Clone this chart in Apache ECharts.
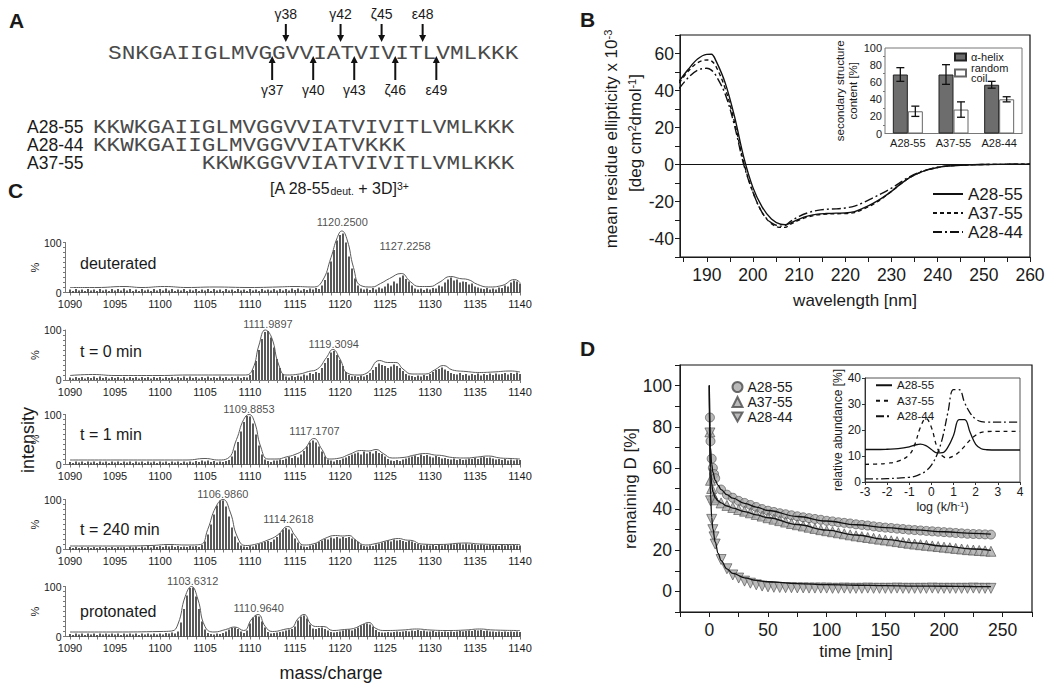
<!DOCTYPE html>
<html><head><meta charset="utf-8">
<script src="https://cdn.jsdelivr.net/npm/echarts@6/dist/echarts.min.js"></script>
<style>html,body{margin:0;padding:0;background:#fff}#c{width:1050px;height:690px}</style>
</head><body><div id="c"></div>
<script>
const FONT = "'Liberation Sans', Arial, Helvetica, sans-serif";
const MONO = "'Liberation Mono', 'Courier New', monospace";
const INK = '#1a1a1a';

// ---------- Panel A ----------
const SEQ_FULL = 'SNKGAIIGLMVGGVVIATVIVITLVMLKKK';
const SITES_ABOVE = [['γ38', 13], ['γ42', 17], ['ζ45', 20], ['ε48', 23]];
const SITES_BELOW = [['γ37', 12], ['γ40', 15], ['γ43', 18], ['ζ46', 21], ['ε49', 24]];
const PEPTIDE_NAMES = ['A28-55', 'A28-44', 'A37-55'];
const PEPTIDE_SEQS = ['KKWKGAIIGLMVGGVVIATVIVITLVMLKKK', 'KKWKGAIIGLMVGGVVIATVKKK', 'KKWKGGVVIATVIVITLVMLKKK'];

// ---------- Panel B ----------
const WL = [184,186,188,190,191,192,194,196,198,200,202,204,206,207,208,210,212,214,216,218,220,222,224,226,228,230,232,234,236,238,240,242,245,250,255,260];
const CD_A2855 = [45,51.5,57,59.5,59.6,56,44,26,4,-12.5,-23,-29.5,-32.3,-32.5,-31.8,-29.5,-27.8,-26.8,-26.5,-26.3,-26.2,-25.5,-23.5,-21,-18,-14.5,-10.5,-7,-4.5,-2.8,-1.6,-0.9,-0.4,0,0.1,0.2];
const CD_A3755 = [44,50.5,55,56.5,56,53,41,23,1,-15,-26,-32,-34,-34,-32.5,-30,-28.3,-27.2,-26.8,-26.6,-26.5,-26,-24,-21.5,-18.3,-14.5,-10.5,-7,-4.5,-2.8,-1.6,-0.9,-0.4,0,0.1,0.2];
const CD_A2844 = [41,47,51,52,51,48,38,21,0,-15,-26,-31.5,-33.3,-33,-31,-28,-26,-24.8,-24.2,-24,-23.5,-22.5,-20.5,-18,-15.5,-12.8,-9.5,-6.5,-4.2,-2.6,-1.5,-0.8,-0.3,0,0.1,0.2];
const CD_X_LABELS = [190,200,210,220,230,240,250,260];
const CD_X_TICKS = [185,190,195,200,205,210,215,220,225,230,235,240,245,250,255,260];

const BAR_CATS = ['A28-55', 'A37-55', 'A28-44'];
const HELIX = [69, 69, 57];
const HELIX_ERR = [8, 11.5, 4];
const COIL = [26, 28, 40];
const COIL_ERR = [6, 9, 3];

// ---------- Panel C ----------
const MZ_START = 1090, MZ_STEP = 1 / 3;
const SPEC_X_LABELS = [1090,1095,1100,1105,1110,1115,1120,1125,1130,1135,1140];
const SPEC_LABELS = ['deuterated', 't = 0 min', 't = 1 min', 't = 240 min', 'protonated'];

const STICKS_DEUT = [
 6,3,7, 4,6,3, 7,4,6, 3,7,4, 6,3,7,
 4,7,4, 8,4,7, 3,6,3, 7,4,6, 3,7,4,
 7,4,8, 4,7,3, 6,4,7, 3,6,4, 7,3,6,
 4,7,3, 7,4,6, 3,7,4, 6,3,7, 4,6,3,
 7,4,6, 3,7,4, 6,4,7, 4,7,4, 7,4,8,
 5,8,4, 7,5,8, 6,9,7, 14,25,40, 62,85,104,
 115,118,100, 72,48,28, 14,8,6, 8,5,9, 6,10,8,
 12,18,14, 22,18,30, 34,27,22, 14,8,6, 8,5,8,
 6,9,8, 14,12,20, 26,30,24, 26,20,22, 21,16,18,
 12,10,8, 7,9,6, 8,6,10, 9,14,12, 20,24,22,
 18];
const ENV_DEUT = [[1090,10],[1093,10],[1096,12],[1098,10],[1100.5,12],[1103,10],[1106,11],[1110,10],[1113,11],[1115,12],[1117,11],[1118,22],[1119,70],[1119.7,110],[1120.2,123],[1120.8,105],[1121.5,50],[1122.3,14],[1123.5,11],[1124.5,18],[1125.5,28],[1126.8,38],[1127.8,22],[1128.8,12],[1130,12],[1131,20],[1132.3,32],[1133.3,28],[1134.2,26],[1135.3,16],[1136.5,11],[1138,14],[1139.4,26],[1140,20]];
const PEAKS_DEUT = [[1120.2500, 123], [1127.2258, 38]];

const STICKS_T0 = [
 5,3,6, 4,6,3, 6,4,7, 4,7,4, 6,3,6,
 4,6,3, 6,3,6, 4,6,3, 6,4,6, 3,6,4,
 6,3,6, 4,6,3, 6,4,7, 4,7,4, 6,3,6,
 4,7,4, 6,4,7, 4,6,3, 6,4,7, 4,6,5,
 10,20,38, 60,82,96, 98,85,65, 42,24,12, 7,5,8,
 6,9,7, 11,9,14, 12,16,14, 24,34,44, 55,58,50,
 40,28,16, 10,7,8, 6,9,7, 10,14,20, 26,33,30,
 28,24,27, 31,28,24, 18,12,9, 8,6,9, 7,10,8,
 12,16,20, 22,25,21, 18,14,12, 11,14,10, 12,9,12,
 10,13,9, 12,10,13, 10,13,11, 12,14,11, 14,12,15,
 12];
const ENV_T0 = [[1090,9],[1092.5,11],[1095,9],[1100,9],[1103,10],[1107,10],[1109.5,10],[1110.3,22],[1111,70],[1111.7,100],[1112.4,85],[1113.2,30],[1114,10],[1115.5,12],[1116.5,17],[1117.5,22],[1118.5,45],[1119.2,61],[1120,42],[1120.8,14],[1122,10],[1123,14],[1124.4,39],[1125.3,35],[1126.2,35],[1127,22],[1128,12],[1129.5,12],[1130.5,20],[1131.5,29],[1132.5,20],[1134,17],[1135.5,15],[1137,16],[1139,18],[1140,16]];
const PEAKS_T0 = [[1111.9897, 100], [1119.3094, 61]];

const STICKS_T1 = [
 5,3,6, 4,6,3, 6,4,6, 3,6,4, 6,3,6,
 4,6,3, 6,4,6, 3,6,4, 6,3,6, 4,6,3,
 6,4,6, 3,6,4, 6,3,6, 4,6,4, 7,5,8,
 6,8,5, 7,4,6, 5,7,9, 16,28,45, 66,85,97,
 96,82,60, 38,20,10, 7,5,8, 8,10,9, 12,15,13,
 17,14,20, 27,36,44, 48,44,36, 26,16,10, 8,6,9,
 9,12,14, 17,20,22, 24,20,26, 22,25,22, 27,23,21,
 16,11,8, 7,9,7, 10,12,14, 16,18,15, 20,17,19,
 16,14,17, 15,12,13, 11,10,12, 9,11,9, 10,12,11,
 13,11,14, 15,13,14, 12,10,11, 9,11,8, 10,8,10,
 9];
const ENV_T1 = [[1090,9],[1095,9],[1100,9],[1103,9],[1105,12],[1106.5,9],[1107.5,12],[1108.5,50],[1109.3,90],[1109.9,100],[1110.5,85],[1111.2,35],[1112,11],[1113,11],[1114,15],[1115,20],[1116,30],[1117.1,52],[1118,30],[1118.8,11],[1120,13],[1121,20],[1122.4,28],[1123.2,27],[1124,30],[1124.8,22],[1125.8,13],[1127,14],[1128.3,19],[1129.5,22],[1130.5,19],[1131.3,18],[1132.5,14],[1134,13],[1135.3,15],[1136.5,17],[1137.8,13],[1139,12],[1140,11]];
const PEAKS_T1 = [[1109.8853, 100], [1117.1707, 52]];

const STICKS_T240 = [
 5,3,5, 3,5,3, 5,3,5, 3,5,3, 5,3,5,
 3,5,4, 5,3,6, 4,6,3, 6,4,7, 4,7,5,
 7,5,8, 6,8,5, 7,5,6, 5,7,6, 7,5,9,
 16,30,50, 70,88,98, 98,86,66, 44,26,14, 8,6,5,
 7,6,9, 11,13,15, 17,15,20, 25,33,40, 43,40,32,
 22,14,8, 6,5,8, 9,12,15, 18,21,20, 24,22,25,
 22,25,23, 25,22,20, 15,10,7, 6,8,7, 10,12,14,
 16,18,16, 20,18,19, 17,15,17, 16,13,11, 9,8,10,
 8,9,7, 9,8,10, 9,11,10, 11,12,10, 12,10,11,
 10,9,10, 9,8,9, 8,9,7, 9,8,9, 8,9,8,
 8];
const ENV_T240 = [[1090,7],[1095,7],[1099,8],[1101,10],[1103,9],[1104.5,10],[1105.3,40],[1106.2,85],[1107,100],[1107.8,75],[1108.6,25],[1109.5,8],[1110.5,10],[1112,19],[1113,28],[1114.2,46],[1115,28],[1116,9],[1117,11],[1118.3,22],[1119.5,28],[1120.3,27],[1121,28],[1121.8,18],[1122.8,9],[1124,12],[1125.3,18],[1126.5,22],[1127.3,19],[1128,18],[1129,11],[1131,10],[1134,13],[1135.5,11],[1138,10],[1140,10]];
const PEAKS_T240 = [[1106.9860, 100], [1114.2618, 46]];

const STICKS_PROT = [
 5,3,6, 4,6,3, 6,4,6, 3,6,4, 6,4,6,
 4,6,3, 6,4,6, 4,6,3, 6,4,6, 4,6,4,
 6,4,7, 6,8,6, 10,28,55, 82,97,98, 80,55,30,
 14,7,5, 4,6,5, 7,10,14, 17,18,15, 10,7,12,
 26,38,42, 40,30,18, 9,6,7, 8,9,10, 12,14,15,
 20,32,40, 42,36,24, 16,15,17, 18,15,12, 9,8,9,
 10,12,13, 14,12,15, 18,22,25, 26,24,20, 13,9,8,
 8,9,8, 9,10,9, 10,11,10, 12,11,13, 11,12,10,
 10,11,9, 10,9,10, 9,10,9, 10,11,10, 11,12,11,
 13,12,13, 11,12,10, 10,9,10, 9,10,9, 10,9,10,
 9];
const ENV_PROT = [[1090,9],[1095,9],[1100,10],[1101.3,11],[1102,25],[1102.8,80],[1103.5,100],[1104.2,75],[1105,20],[1106,9],[1107.3,14],[1108.3,19],[1109.3,12],[1110.2,35],[1110.9,44],[1111.7,20],[1112.5,10],[1114,15],[1114.7,18],[1115.3,35],[1116,44],[1116.8,24],[1117.5,20],[1118.2,20],[1119.2,12],[1120.5,14],[1121.5,16],[1122.5,24],[1123.2,28],[1124,16],[1125,12],[1127,13],[1128.5,15],[1130,13],[1132,12],[1134,13],[1135.5,15],[1137,13],[1140,12]];
const PEAKS_PROT = [[1103.6312, 100], [1110.9640, 44]];

// ---------- Panel D ----------
const T_PTS = [0.5,1,2,3,4,5,10,15,20,25,30,35,40,45,50,55,60,65,70,75,80,85,90,95,100,105,110,115,120,125,130,135,140,145,150,155,160,165,170,175,180,185,190,195,200,205,210,215,220,225,230,235,240];
const D_A2855 = [84.5,73,64.5,60,57,55,49.5,47,45.5,44,43,42,41,40,39.2,38.6,38,37.5,37,36.5,36,35.6,35.2,34.8,34.3,34,33.6,33.3,33,32.6,32.3,32,31.6,31.3,31,30.8,30.5,30.3,30,29.8,29.6,29.4,29.2,29,28.8,28.6,28.4,28.2,28,27.9,27.8,27.7,27.6];
const D_A3755 = [77.5,54,50,47,45.5,44.5,43,41.8,40.8,39.8,39,38.2,37.4,36.6,35.8,35.1,34.4,33.7,33,32.4,31.8,31.2,30.6,30,29.5,29,28.5,28,27.5,27,26.6,26.2,25.8,25.4,25,24.6,24.2,23.8,23.4,23,22.7,22.4,22.1,21.8,21.5,21.2,20.9,20.6,20.3,20.1,19.9,19.7,19.5];
const D_A2844 = [77,44,35,30,26.5,23,15.5,11,8,6.5,5,4,3.2,2.6,2.2,2,1.9,1.8,1.8,1.7,1.7,1.6,1.6,1.6,1.6,1.5,1.5,1.6,1.5,1.5,1.5,1.6,1.5,1.5,1.5,1.5,1.6,1.5,1.5,1.5,1.5,1.5,1.6,1.5,1.5,1.5,1.5,1.5,1.5,1.6,1.5,1.5,1.5];
const FIT_T = [0,0.5,1,2,3,5,7.5,10,15,20,30,40,50,75,100,125,150,175,200,225,240];
const FIT_A2855 = [100,80,70,62,58,54,51.5,49.5,47,45.3,42.8,41,39.3,36.4,34.2,32.4,31,29.9,29,28.2,27.8];
const FIT_A3755 = [100,72,60,52,48.5,45.5,44,43,41.5,40.5,38.8,37.2,35.8,32.5,29.8,27.4,25.3,23.6,22,20.6,19.9];
const FIT_A2844 = [100,60,47,36,30.5,24,18.5,15,11,8.8,6.6,5.4,4.7,3.8,3.3,3.0,2.8,2.6,2.5,2.4,2.3];

const LOGK = [-3,-2.5,-2,-1.5,-1,-0.75,-0.5,-0.25,0,0.25,0.5,0.75,1,1.25,1.5,1.75,2,2.25,2.5,3,3.5,4];
const AB_A2855 = [12.5,12.5,12.6,12.8,13.5,14.2,14.6,14.0,12.5,11.2,11.3,13.5,18,24,24,19,14.5,12.8,12.4,12.3,12.3,12.3];
const AB_A3755 = [6.8,6.9,7.2,8,10.5,14.5,21,24.5,21,13.5,10,9.3,10,11.5,13.8,16.2,18,19.1,19.4,19.5,19.5,19.5];
const AB_A2844 = [1.2,1.2,1.3,1.5,1.8,2.2,3,4.2,6.5,10.5,17,27,35.5,35.5,30.5,26.5,24.2,23.2,23,23,23,23];

// ================= layout & option =================
const stripName = n => n.split('|')[1];
const plain = v => String(v);
const SPEC_TOPS = [242.5, 330, 414.5, 499.5, 586.5];
const SPEC_H = 50;
const SPEC_STICKS = [STICKS_DEUT, STICKS_T0, STICKS_T1, STICKS_T240, STICKS_PROT];
const SPEC_ENVS = [ENV_DEUT, ENV_T0, ENV_T1, ENV_T240, ENV_PROT];
const SPEC_PEAKS = [PEAKS_DEUT, PEAKS_T0, PEAKS_T1, PEAKS_T240, PEAKS_PROT];
const PEAK_LABEL_DIST = [[3, 22], [0, 0], [0, 2], [0, 2], [0, 1]];
const SPEC_LABEL_Y = [263, 351.7, 434, 529, 611];
const SPEC_TICKS = [];
for (let m = 1090; m <= 1140; m++) SPEC_TICKS.push(m);

const axisBase = (c) => ({
  axisLine: {onZero: false, lineStyle: {color: c || INK, width: 1}},
  splitLine: {show: false},
  axisLabel: {color: INK, fontFamily: FONT},
  axisTick: {lineStyle: {color: c || INK}},
  nameTextStyle: {color: INK, fontFamily: FONT}
});
function ax(base, extra) {
  const o = Object.assign({}, base, extra);
  ['axisLine', 'axisLabel', 'axisTick', 'nameTextStyle'].forEach(k => {
    if (extra[k]) o[k] = Object.assign({}, base[k], extra[k]);
  });
  return o;
}

const grid = [
  {left: 680, top: 35, width: 350, height: 222, show: true, borderColor: '#111', borderWidth: 1.2},
  {left: 885, top: 48, width: 137, height: 85.5, show: true, borderColor: '#777', borderWidth: 1, backgroundColor: '#fff'},
  ...SPEC_TOPS.map(t => ({left: 65.5, top: t, width: 454.5, height: SPEC_H})),
  {left: 680, top: 365, width: 352, height: 247, show: true, borderColor: '#111', borderWidth: 1.2},
  {left: 865, top: 378, width: 155, height: 104, show: true, borderColor: '#555', borderWidth: 1, backgroundColor: '#fff'}
];

const xAxis = [
  ax(axisBase(), {gridIndex: 0, type: 'value', min: 184.2, max: 260,
    axisLabel: {customValues: CD_X_LABELS, fontSize: 17.5, margin: 9, formatter: plain},
    axisTick: {customValues: CD_X_TICKS, length: 5},
    name: 'wavelength [nm]', nameLocation: 'middle', nameGap: 35, nameTextStyle: {fontSize: 17}}),
  ax(axisBase('#777'), {gridIndex: 1, type: 'category', data: BAR_CATS,
    axisLabel: {fontSize: 11, margin: 4, interval: 0}, axisTick: {show: false}}),
  ...SPEC_TOPS.map((t, k) => ax(axisBase('#777'), {gridIndex: k + 2, type: 'value', min: 1089.5, max: 1140,
    axisLabel: {customValues: SPEC_X_LABELS, fontSize: 11, margin: 6, formatter: plain},
    axisTick: {customValues: SPEC_TICKS, length: 3}})),
  ax(axisBase(), {gridIndex: 7, type: 'value', min: -25, max: 275, interval: 25,
    axisLabel: {fontSize: 17.5, margin: 9, formatter: v => (v % 50 === 0 ? String(v) : '')},
    axisTick: {length: 5},
    name: 'time [min]', nameLocation: 'middle', nameGap: 31, nameTextStyle: {fontSize: 17}}),
  ax(axisBase('#333'), {gridIndex: 8, type: 'value', min: -3, max: 4, interval: 1,
    axisLabel: {fontSize: 12, margin: 4}, axisTick: {length: 3},
    name: 'log (k/h{s|-1})', nameLocation: 'middle', nameGap: 18,
    nameTextStyle: {fontSize: 12.5, rich: {s: {fontSize: 8, verticalAlign: 'top', fontFamily: FONT, color: INK}}}})
];

const yAxis = [
  ax(axisBase(), {gridIndex: 0, type: 'value', min: -50, max: 70, interval: 10,
    axisLabel: {fontSize: 17.5, margin: 6, formatter: v => (v % 20 === 0 ? String(v) : '')}, axisTick: {length: 5}}),
  ax(axisBase('#777'), {gridIndex: 1, type: 'value', min: 0, max: 100, interval: 20,
    axisLabel: {fontSize: 11, margin: 3}, axisTick: {length: 3},
    minorTick: {show: true, splitNumber: 2, length: 2, lineStyle: {color: '#777'}},
    name: 'secondary structure\ncontent [%]', nameLocation: 'middle', nameGap: 23,
    nameTextStyle: {fontSize: 11.5, lineHeight: 13}}),
  ...SPEC_TOPS.map((t, k) => ax(axisBase('#777'), {gridIndex: k + 2, type: 'value', min: 0, max: 100, interval: 10,
    axisLabel: {fontSize: 10.5, margin: 4, formatter: v => (v === 0 || v === 100 ? String(v) : '')},
    axisTick: {length: 2.5},
    name: '%', nameLocation: 'middle', nameRotate: 90, nameGap: 8, nameTextStyle: {fontSize: 11}})),
  ax(axisBase(), {gridIndex: 7, type: 'value', min: -10, max: 110, interval: 10,
    axisLabel: {fontSize: 17.5, margin: 8, formatter: v => (v % 20 === 0 ? String(v) : '')}, axisTick: {length: 5},
    name: 'remaining D [%]', nameLocation: 'middle', nameGap: 35, nameTextStyle: {fontSize: 17}}),
  ax(axisBase('#333'), {gridIndex: 8, type: 'value', min: 0, max: 40, interval: 10,
    axisLabel: {fontSize: 12, margin: 4}, axisTick: {length: 3},
    name: 'relative abundance [%]', nameLocation: 'middle', nameGap: 20, nameTextStyle: {fontSize: 12}})
];

const series = [];
// ---- B: CD spectra
[['B|A28-55', CD_A2855, 'solid'], ['B|A37-55', CD_A3755, [4, 3]], ['B|A28-44', CD_A2844, [9, 3, 2, 3]]]
.forEach(([name, vals, type], i) => {
  const s = {name, type: 'line', xAxisIndex: 0, yAxisIndex: 0, symbol: 'none', smooth: 0.35,
    data: WL.map((w, j) => [w, vals[j]]), itemStyle: {color: '#111'}, lineStyle: {color: '#111', width: 1.4, type}};
  if (i === 0) s.markLine = {silent: true, symbol: ['none', 'none'], label: {show: false},
    lineStyle: {color: '#111', type: 'solid', width: 1.1}, data: [{yAxis: 0}], animation: false};
  series.push(s);
});
// ---- B inset bars + error bars
series.push({name: 'Bi|α-helix', type: 'bar', xAxisIndex: 1, yAxisIndex: 1, data: HELIX, barWidth: 15, barGap: '0%',
  itemStyle: {color: '#6d6d6d', borderColor: '#222', borderWidth: 1}});
series.push({name: 'Bi|random coil', type: 'bar', xAxisIndex: 1, yAxisIndex: 1, data: COIL, barWidth: 15, barGap: '0%',
  itemStyle: {color: '#fff', borderColor: '#666', borderWidth: 1}});
function errRender(offset) {
  return function (params, api) {
    const lo = api.coord([api.value(0), api.value(1)]);
    const hi = api.coord([api.value(0), api.value(2)]);
    const x = lo[0] + offset, w = 4;
    const st = {stroke: '#111', lineWidth: 1.3};
    return {type: 'group', children: [
      {type: 'line', shape: {x1: x, y1: lo[1], x2: x, y2: hi[1]}, style: st},
      {type: 'line', shape: {x1: x - w, y1: lo[1], x2: x + w, y2: lo[1]}, style: st},
      {type: 'line', shape: {x1: x - w, y1: hi[1], x2: x + w, y2: hi[1]}, style: st}]};
  };
}
series.push({name: 'Bi|err-helix', type: 'custom', xAxisIndex: 1, yAxisIndex: 1, z: 5, encode: {x: 0, y: [1, 2]},
  renderItem: errRender(-7.5), data: BAR_CATS.map((c, i) => [i, HELIX[i] - HELIX_ERR[i], HELIX[i] + HELIX_ERR[i]])});
series.push({name: 'Bi|err-coil', type: 'custom', xAxisIndex: 1, yAxisIndex: 1, z: 5, encode: {x: 0, y: [1, 2]},
  renderItem: errRender(7.5), data: BAR_CATS.map((c, i) => [i, COIL[i] - COIL_ERR[i], COIL[i] + COIL_ERR[i]])});

// ---- C: mass spectra
SPEC_STICKS.forEach((sticks, k) => {
  const ai = k + 2;
  series.push({name: 'C|sticks' + k, type: 'bar', xAxisIndex: ai, yAxisIndex: ai, barWidth: 1.3, clip: false, silent: true,
    data: sticks.map((v, i) => [MZ_START + i * MZ_STEP, v]), itemStyle: {color: '#000'}});
  series.push({name: 'C|env' + k, type: 'line', xAxisIndex: ai, yAxisIndex: ai, clip: false, silent: true,
    data: SPEC_ENVS[k], smooth: 0.5, symbol: 'none', lineStyle: {color: '#5a5a5a', width: 1}});
  series.push({name: 'C|peaks' + k, type: 'scatter', xAxisIndex: ai, yAxisIndex: ai, clip: false, silent: true,
    data: SPEC_PEAKS[k].map((p, j) => ({value: p, label: {distance: PEAK_LABEL_DIST[k][j]}})),
    symbol: 'circle', symbolSize: 0.1, itemStyle: {color: 'rgba(0,0,0,0)'},
    label: {show: true, position: 'top', formatter: p => p.value[0].toFixed(4), fontSize: 11, color: INK, fontFamily: FONT}});
});

// ---- D: exchange kinetics
const ptStyle = {color: '#a9a9a9', borderColor: '#4a4a4a', borderWidth: 0.8};
[['D|A28-55', D_A2855, 'circle', 9], ['D|A37-55', D_A3755, 'triangle', 10], ['D|A28-44', D_A2844, 'path://M0,0L10,0L5,9Z', 10]]
.forEach(([name, vals, symbol, size]) => series.push({name, type: 'scatter', xAxisIndex: 7, yAxisIndex: 7,
  symbol, symbolSize: size, itemStyle: ptStyle, data: T_PTS.map((t, i) => [t, vals[i]])}));
[FIT_A2855, FIT_A3755, FIT_A2844].forEach((vals, i) => series.push({name: 'D|fit' + i, type: 'line', xAxisIndex: 7, yAxisIndex: 7,
  z: 3, symbol: 'none', smooth: 0.4, smoothMonotone: 'x', data: FIT_T.map((t, j) => [t, vals[j]]),
  lineStyle: {color: '#111', width: 1.3}}));
[['Di|A28-55', AB_A2855, 'solid'], ['Di|A37-55', AB_A3755, [4, 4]], ['Di|A28-44', AB_A2844, [8, 3, 2, 3]]]
.forEach(([name, vals, type]) => series.push({name, type: 'line', xAxisIndex: 8, yAxisIndex: 8, symbol: 'none', smooth: 0.4,
  data: LOGK.map((x, j) => [x, vals[j]]), itemStyle: {color: '#111'}, lineStyle: {color: '#111', width: 1.3, type}}));

// ---- legends
const legend = [
  {data: ['B|A28-55', 'B|A37-55', 'B|A28-44'], orient: 'vertical', left: 932, top: 184.5, padding: 0,
    itemWidth: 30, itemHeight: 12, itemGap: 0, selectedMode: false, formatter: stripName,
    itemStyle: {opacity: 0},
    textStyle: {fontSize: 17, lineHeight: 19, color: INK, fontFamily: FONT}},
  {data: ['Bi|α-helix', 'Bi|random coil'], orient: 'vertical', left: 954, top: 51.5, padding: 0,
    itemWidth: 11, itemHeight: 7, itemGap: 0, icon: 'rect', selectedMode: false,
    formatter: n => stripName(n).replace(' ', '\n'),
    textStyle: {fontSize: 11, lineHeight: 10, color: INK, fontFamily: FONT}},
  {data: ['D|A28-55', 'D|A37-55', 'D|A28-44'], orient: 'vertical', left: 731.5, top: 379.5, padding: 0,
    itemWidth: 10, itemHeight: 10, itemGap: 0, selectedMode: false, formatter: stripName,
    textStyle: {fontSize: 14, lineHeight: 15, color: INK, fontFamily: FONT}},
  {data: ['Di|A28-55', 'Di|A37-55', 'Di|A28-44'], orient: 'vertical', left: 875, top: 377.5, padding: 0,
    itemWidth: 16, itemHeight: 10, itemGap: 0, selectedMode: false, formatter: stripName,
    itemStyle: {opacity: 0},
    textStyle: {fontSize: 11.5, lineHeight: 15.5, color: INK, fontFamily: FONT}}
];

// ---- free text / annotations
const G = [];
function txt(x, y, text, style, el) {
  G.push(Object.assign({type: 'text', x, y, silent: true,
    style: Object.assign({text, fill: INK, fontFamily: FONT, fontSize: 16, align: 'left', verticalAlign: 'middle'}, style)}, el || {}));
}
// panel letters
txt(9, 20, 'A', {fontSize: 21, fontWeight: 'bold'});
txt(580, 19, 'B', {fontSize: 21, fontWeight: 'bold'});
txt(8, 190, 'C', {fontSize: 21, fontWeight: 'bold'});
txt(580, 348, 'D', {fontSize: 21, fontWeight: 'bold'});

// panel A  (monospace text scaled horizontally so each residue spans 13.68 px)
const SEQ_FS = 20, SEQ_CW = 13.68, SEQ_SX = SEQ_CW / (SEQ_FS * 0.6), SEQ_X0 = 108, SEQ_Y = 53;
txt(0, 0, SEQ_FULL, {fontFamily: MONO, fontSize: SEQ_FS, fill: '#4a4a4a'}, {x: SEQ_X0, y: SEQ_Y, scaleX: SEQ_SX});
SITES_ABOVE.forEach(([lab, pos]) => {
  const x = SEQ_X0 + pos * SEQ_CW;
  txt(x, 14, lab, {fontSize: 14, align: 'center'});
  G.push({type: 'line', silent: true, shape: {x1: x, y1: 24, x2: x, y2: 36}, style: {stroke: '#111', lineWidth: 2}});
  G.push({type: 'polygon', silent: true, shape: {points: [[x - 3.5, 35], [x + 3.5, 35], [x, 42]]}, style: {fill: '#111'}});
});
SITES_BELOW.forEach(([lab, pos]) => {
  const x = SEQ_X0 + pos * SEQ_CW;
  txt(x, 90, lab, {fontSize: 14, align: 'center'});
  G.push({type: 'line', silent: true, shape: {x1: x, y1: 62, x2: x, y2: 80}, style: {stroke: '#111', lineWidth: 2}});
  G.push({type: 'polygon', silent: true, shape: {points: [[x, 56], [x - 3.5, 63], [x + 3.5, 63]]}, style: {fill: '#111'}});
});
const PEP_X0 = 93, PEP_CW = 13.6, PEP_YS = [127, 145, 163], PEP_LEN = PEPTIDE_SEQS[0].length;
PEPTIDE_NAMES.forEach((n, i) => {
  txt(27, PEP_YS[i], n, {fontSize: 17.5});
  const seq = PEPTIDE_SEQS[i];
  const x = (n === 'A37-55') ? PEP_X0 + (PEP_LEN - seq.length) * PEP_CW : PEP_X0;
  txt(0, 0, seq, {fontFamily: MONO, fontSize: SEQ_FS, fill: '#4a4a4a'}, {x: x, y: PEP_YS[i], scaleX: PEP_CW / (SEQ_FS * 0.6)});
});

// panel B y-axis title (two rotated lines)
txt(611, 139, 'mean residue ellipticity x 10{s|-3}',
  {fontSize: 17, align: 'center', rich: {s: {fontSize: 11, verticalAlign: 'top', fontFamily: FONT, fill: INK}}}, {rotation: Math.PI / 2});
txt(635, 133, '[deg cm{s|2}dmol{s|-1}]',
  {fontSize: 17, align: 'center', rich: {s: {fontSize: 11, verticalAlign: 'top', fontFamily: FONT, fill: INK}}}, {rotation: Math.PI / 2});

// panel C texts
txt(270, 188, '[A 28-55{b|deut.} + 3D]{t|3+}', {fontSize: 16,
  rich: {b: {fontSize: 10.5, verticalAlign: 'bottom', fontFamily: FONT, fill: INK}, t: {fontSize: 10.5, verticalAlign: 'top', fontFamily: FONT, fill: INK}}});
SPEC_LABELS.forEach((s, k) => txt(80, SPEC_LABEL_Y[k], s, {fontSize: 16}));
txt(28, 440, 'intensity', {fontSize: 18, align: 'center'}, {rotation: Math.PI / 2});
txt(331, 673, 'mass/charge', {fontSize: 18, align: 'center'});

const option = {
  animation: false,
  backgroundColor: '#fff',
  textStyle: {fontFamily: FONT, color: INK},
  grid, xAxis, yAxis, legend, series, graphic: G
};
const chart = echarts.init(document.getElementById('c'), null, {renderer: 'svg'});
chart.setOption(option);
</script>
</body></html>
